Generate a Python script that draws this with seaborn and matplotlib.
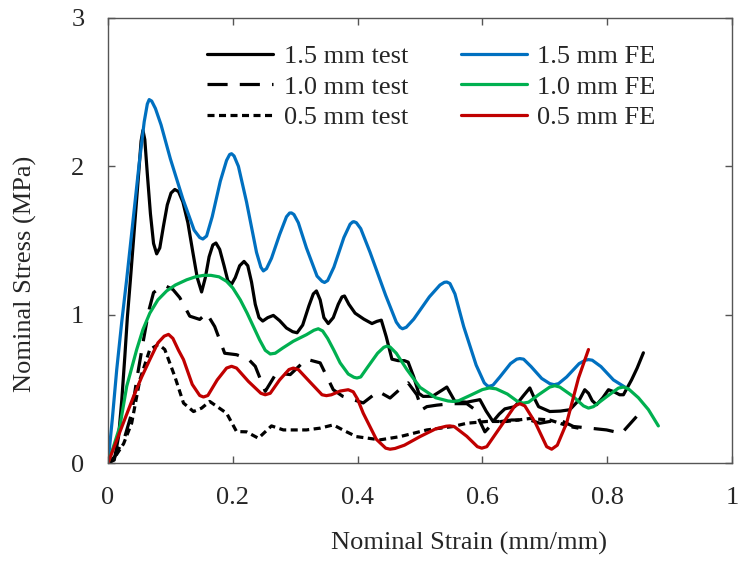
import pandas as pd
import seaborn as sns
import matplotlib.pyplot as plt

# ---------------------------------
# Data
# ---------------------------------
fe15_x = [0, 0.007, 0.014, 0.022, 0.030, 0.040, 0.050, 0.058, 0.063, 0.066, 0.070, 0.076, 0.085, 0.10,
          0.12, 0.138, 0.147, 0.152, 0.158, 0.167, 0.180, 0.190, 0.195, 0.198, 0.202, 0.209, 0.222,
          0.238, 0.245, 0.249, 0.254, 0.262, 0.275, 0.286, 0.291, 0.294, 0.298, 0.305, 0.318, 0.335,
          0.343, 0.347, 0.352, 0.362, 0.378, 0.388, 0.392, 0.394, 0.398, 0.405, 0.42, 0.445, 0.462,
          0.468, 0.472, 0.478, 0.49, 0.515, 0.532, 0.539, 0.543, 0.548, 0.556, 0.57, 0.59, 0.603,
          0.608, 0.611, 0.617, 0.628, 0.645, 0.655, 0.660, 0.666, 0.678, 0.695, 0.708, 0.715, 0.722,
          0.735, 0.755, 0.765, 0.770, 0.776, 0.79, 0.81, 0.829]
fe15_y = [0, 0.30, 0.63, 0.95, 1.24, 1.63, 2.02, 2.30, 2.42, 2.45, 2.44, 2.39, 2.28, 2.05,
          1.78, 1.57, 1.52, 1.51, 1.53, 1.66, 1.90, 2.04, 2.08, 2.085, 2.07, 2.00, 1.76,
          1.42, 1.32, 1.295, 1.31, 1.38, 1.54, 1.66, 1.685, 1.686, 1.675, 1.62, 1.45, 1.26,
          1.225, 1.217, 1.23, 1.32, 1.52, 1.61, 1.625, 1.627, 1.62, 1.58, 1.42, 1.13, 0.95,
          0.915, 0.905, 0.915, 0.97, 1.12, 1.20, 1.218, 1.22, 1.21, 1.14, 0.92, 0.66, 0.54,
          0.52, 0.517, 0.525, 0.58, 0.67, 0.70, 0.704, 0.70, 0.65, 0.57, 0.535, 0.528, 0.535,
          0.58, 0.67, 0.693, 0.697, 0.693, 0.65, 0.56, 0.51]

fe10_x = [0, 0.008, 0.019, 0.030, 0.046, 0.056, 0.067, 0.08, 0.094, 0.108, 0.126, 0.14, 0.153, 0.165,
          0.178, 0.19, 0.20, 0.212, 0.223, 0.233, 0.243, 0.252, 0.26, 0.268, 0.28, 0.297, 0.318,
          0.33, 0.337, 0.344, 0.352, 0.362, 0.372, 0.385, 0.394, 0.399, 0.405, 0.415, 0.432, 0.442,
          0.447, 0.452, 0.462, 0.479, 0.5, 0.525, 0.545, 0.553, 0.562, 0.58, 0.600, 0.611, 0.622,
          0.64, 0.658, 0.666, 0.674, 0.69, 0.708, 0.716, 0.724, 0.745, 0.762, 0.77, 0.778, 0.80,
          0.818, 0.826, 0.834, 0.85, 0.866, 0.882]
fe10_y = [0, 0.10, 0.246, 0.517, 0.765, 0.90, 1.01, 1.10, 1.16, 1.20, 1.235, 1.255, 1.265, 1.265,
          1.255, 1.225, 1.18, 1.10, 1.01, 0.92, 0.83, 0.76, 0.735, 0.74, 0.775, 0.821, 0.865,
          0.895, 0.905, 0.89, 0.84, 0.76, 0.675, 0.60, 0.578, 0.573, 0.58, 0.64, 0.74, 0.78,
          0.788, 0.782, 0.74, 0.63, 0.51, 0.44, 0.418, 0.415, 0.42, 0.455, 0.495, 0.506, 0.50,
          0.465, 0.41, 0.404, 0.41, 0.46, 0.512, 0.521, 0.512, 0.45, 0.385, 0.37, 0.38, 0.45,
          0.505, 0.512, 0.50, 0.44, 0.36, 0.25]

fe05_x = [0, 0.02, 0.041, 0.054, 0.067, 0.08, 0.09, 0.097, 0.104, 0.113, 0.121, 0.135, 0.147, 0.153,
          0.16, 0.175, 0.19, 0.198, 0.206, 0.225, 0.245, 0.252, 0.26, 0.275, 0.29, 0.297, 0.305,
          0.325, 0.343, 0.35, 0.358, 0.372, 0.385, 0.393, 0.40, 0.409, 0.43, 0.445, 0.452, 0.46,
          0.475, 0.5, 0.525, 0.542, 0.548, 0.555, 0.575, 0.592, 0.599, 0.607, 0.63, 0.652, 0.66,
          0.668, 0.685, 0.703, 0.711, 0.72, 0.735, 0.754, 0.77]
fe05_y = [0, 0.22, 0.449, 0.58, 0.697, 0.81, 0.855, 0.867, 0.84, 0.76, 0.697, 0.53, 0.455, 0.445,
          0.455, 0.56, 0.64, 0.652, 0.64, 0.55, 0.47, 0.46, 0.47, 0.56, 0.63, 0.64, 0.63,
          0.54, 0.46, 0.454, 0.46, 0.485, 0.494, 0.48, 0.43, 0.336, 0.16, 0.10, 0.093, 0.098,
          0.12, 0.178, 0.23, 0.248, 0.25, 0.245, 0.18, 0.11, 0.10, 0.11, 0.25, 0.385, 0.40,
          0.385, 0.27, 0.11, 0.093, 0.12, 0.27, 0.573, 0.765]

test15_x = [0, 0.01, 0.017, 0.022, 0.027, 0.031, 0.036, 0.043, 0.050, 0.053, 0.056, 0.059, 0.063,
            0.068, 0.073, 0.078, 0.083, 0.089, 0.095, 0.101, 0.107, 0.113, 0.12, 0.128, 0.136,
            0.143, 0.150, 0.156, 0.162, 0.168, 0.173, 0.179, 0.186, 0.192, 0.198, 0.204, 0.211,
            0.218, 0.224, 0.230, 0.236, 0.242, 0.248, 0.256, 0.265, 0.275, 0.286, 0.296, 0.303,
            0.312, 0.322, 0.329, 0.334, 0.34, 0.346, 0.353, 0.361, 0.369, 0.375, 0.379, 0.386,
            0.396, 0.41, 0.423, 0.431, 0.438, 0.446, 0.455, 0.465, 0.475, 0.481, 0.49, 0.498,
            0.505, 0.52, 0.535, 0.543, 0.55, 0.556, 0.575, 0.596, 0.606, 0.617, 0.627, 0.636,
            0.652, 0.665, 0.676, 0.684, 0.69, 0.708, 0.725, 0.74, 0.756, 0.764, 0.77, 0.776, 0.783,
            0.793, 0.802, 0.811, 0.82, 0.826, 0.839, 0.848, 0.858]
test15_y = [0, 0.02, 0.18, 0.42, 0.72, 0.98, 1.24, 1.62, 2.0, 2.17, 2.243, 2.18, 1.95,
            1.68, 1.48, 1.41, 1.45, 1.6, 1.74, 1.82, 1.844, 1.83, 1.76, 1.62, 1.42,
            1.25, 1.153, 1.25, 1.39, 1.47, 1.483, 1.44, 1.33, 1.23, 1.205, 1.25, 1.33,
            1.359, 1.33, 1.22, 1.07, 0.98, 0.957, 0.98, 0.995, 0.96, 0.91, 0.885, 0.878,
            0.93, 1.06, 1.14, 1.16, 1.10, 0.98, 0.94, 0.98, 1.07, 1.12, 1.126, 1.07,
            1.01, 0.97, 0.94, 0.955, 0.963, 0.85, 0.70, 0.69, 0.69, 0.68, 0.58, 0.47,
            0.449, 0.45, 0.49, 0.512, 0.46, 0.415, 0.41, 0.427, 0.35, 0.28, 0.33, 0.365,
            0.38, 0.45, 0.506, 0.43, 0.38, 0.347, 0.35, 0.359, 0.43, 0.494, 0.47, 0.42, 0.393,
            0.44, 0.494, 0.48, 0.46, 0.46, 0.56, 0.64, 0.743]

test10_x = [0, 0.011, 0.027, 0.038, 0.046, 0.057, 0.065, 0.073, 0.083, 0.094, 0.104, 0.115, 0.131,
            0.147, 0.158, 0.171, 0.187, 0.206, 0.225, 0.236, 0.252, 0.27, 0.292, 0.318, 0.34,
            0.361, 0.376, 0.393, 0.409, 0.433, 0.452, 0.473, 0.481, 0.495, 0.503, 0.511, 0.527,
            0.55, 0.575, 0.588, 0.596, 0.604, 0.612, 0.63, 0.647, 0.676, 0.692, 0.708, 0.724,
            0.746, 0.772, 0.799, 0.823, 0.847]
test10_y = [0, 0.043, 0.178, 0.336, 0.562, 0.833, 1.02, 1.149, 1.18, 1.19, 1.17, 1.115, 0.99,
            0.968, 1.01, 0.92, 0.74, 0.73, 0.70, 0.652, 0.483, 0.607, 0.596, 0.70, 0.675,
            0.494, 0.45, 0.427, 0.405, 0.483, 0.438, 0.517, 0.54, 0.46, 0.359, 0.38, 0.39,
            0.40, 0.40, 0.36, 0.28, 0.21, 0.246, 0.28, 0.29, 0.29, 0.268, 0.28, 0.29,
            0.246, 0.235, 0.223, 0.20, 0.313]

test05_x = [0, 0.008, 0.025, 0.038, 0.051, 0.067, 0.081, 0.091, 0.107, 0.121, 0.137, 0.15, 0.163,
            0.175, 0.19, 0.206, 0.222, 0.241, 0.262, 0.281, 0.318, 0.34, 0.361, 0.38, 0.398,
            0.436, 0.468, 0.511, 0.553, 0.575, 0.607, 0.639, 0.676, 0.708, 0.74, 0.76]
test05_y = [0, 0.02, 0.13, 0.27, 0.56, 0.765, 0.80, 0.765, 0.584, 0.404, 0.347, 0.37, 0.415,
            0.38, 0.336, 0.212, 0.21, 0.167, 0.25, 0.223, 0.223, 0.235, 0.257, 0.215, 0.178,
            0.156, 0.178, 0.223, 0.246, 0.268, 0.28, 0.28, 0.30, 0.29, 0.246, 0.23]

x_ticks = [0, 0.2, 0.4, 0.6, 0.8, 1]
x_tick_labels = ["0", "0.2", "0.4", "0.6", "0.8", "1"]
y_ticks = [0, 1, 2, 3]

# ---------------------------------
# Style
# ---------------------------------
sns.set_style("ticks")
plt.rcParams['font.family'] = ['Liberation Serif', 'DejaVu Serif']
plt.rcParams['font.size'] = 19

fig = plt.figure(figsize=(7.39, 5.63), dpi=100)
ax = fig.add_axes([108 / 739, 1 - 463 / 563, 624 / 739, 445 / 563])

series = [
    (test15_x, test15_y, "1.5 mm test", "black", "-"),
    (test10_x, test10_y, "1.0 mm test", "black", (0, (6.3, 3.8))),
    (test05_x, test05_y, "0.5 mm test", "black", (0, (2.2, 1.4))),
    (fe15_x, fe15_y, "1.5 mm FE", "#0070C0", "-"),
    (fe10_x, fe10_y, "1.0 mm FE", "#00B050", "-"),
    (fe05_x, fe05_y, "0.5 mm FE", "#C00000", "-"),
]

for xs, ys, name, color, ls in series:
    df = pd.DataFrame({"strain": xs, "stress": ys})
    sns.lineplot(data=df, x="strain", y="stress", ax=ax, color=color, linewidth=2.3,
                 linestyle=ls, label=name, estimator=None, sort=False)
for ln in ax.lines:
    ln.set_solid_joinstyle("round")
    ln.set_dash_joinstyle("round")

ax.set_xlim(0, 1)
ax.set_ylim(0, 3)
ax.set_xticks(x_ticks)
ax.set_xticklabels(x_tick_labels)
ax.set_yticks(y_ticks)

for side in ["left", "right", "top", "bottom"]:
    ax.spines[side].set_visible(True)
    ax.spines[side].set_color("#555555")
    ax.spines[side].set_linewidth(1.0)
ax.tick_params(direction="in", length=5, width=1, color="#555555", top=True, right=True,
               labelsize=19, pad=17)

ax.set_xlabel("Nominal Strain (mm/mm)", fontsize=19)
ax.set_ylabel("Nominal Stress (MPa)", fontsize=19)
ax.xaxis.set_label_coords(0.579, -0.155)
ax.yaxis.set_label_coords(-0.114, 0.425)

ax.legend(ncol=2, frameon=False, loc="upper left", bbox_to_anchor=(0.159, 0.94),
          borderaxespad=0, borderpad=0, handlelength=2.5, handletextpad=0.4,
          columnspacing=2.0, labelspacing=0.26, fontsize=19)

fig.savefig("out.png", dpi=100)
